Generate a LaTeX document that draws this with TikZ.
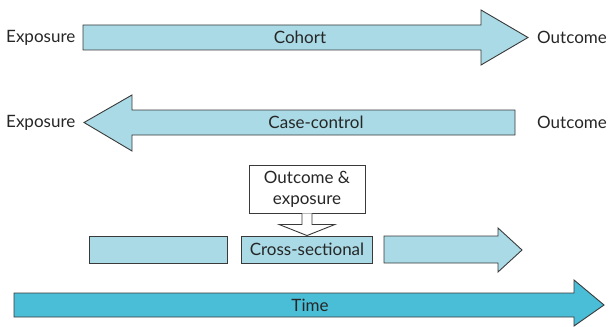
\documentclass[tikz,border=0pt]{standalone}
\usepackage{fontspec}
\setmainfont{Lato}
\usetikzlibrary{calc}
\definecolor{paleblue}{HTML}{A9DAE6}
\definecolor{timeblue}{HTML}{4ABDD7}
\definecolor{edgegrey}{HTML}{3A3A3A}
\tikzset{
  band/.style={draw=edgegrey, line width=0.9pt, fill=paleblue, line join=miter},
  lbl/.style={font=\fontsize{17}{21}\selectfont, text=black!85, inner sep=0pt},
}

\begin{document}
\begin{tikzpicture}[x=1pt,y=-1pt]
      \useasboundingbox (0,0) rectangle (609,326);
      % cohort
      \draw[band] (83,25) -- (481,25) -- (481,10) -- (528,37.5) -- (481,65) -- (481,50) -- (83,50) -- cycle;
      \node[lbl] (cohort) at (300,37.5) {Cohort};
      \node[lbl, anchor=west] (expA) at (6,37.5) {Exposure};
      \node[lbl, anchor=east] (outA) at (607,37.5) {Outcome};
      % case-control
      \draw[band] (515,110) -- (132,110) -- (132,95) -- (84,122.5) -- (132,151) -- (132,135) -- (515,135) -- cycle;
      \node[lbl] (casecontrol) at (316,122.5) {Case-control};
      \node[lbl, anchor=west] (expB) at (6,122.5) {Exposure};
      \node[lbl, anchor=east] (outB) at (607,122.5) {Outcome};
      % cross-sectional
      \draw[band] (89,236) rectangle (227,263);
      \node[lbl, draw=edgegrey, line width=0.9pt, fill=paleblue, minimum width=131pt, minimum height=27pt] (cross) at (307,249.5) {Cross-sectional};
      \draw[band] (384,236) -- (498,236) -- (498,228) -- (522,250) -- (498,272) -- (498,263) -- (384,263) -- cycle;
      \node[lbl, draw=edgegrey, line width=0.9pt, fill=white, align=center, minimum width=116pt, minimum height=48pt] (both) at (307,189) {Outcome \&\\exposure};
      \draw[edgegrey, line width=0.9pt, fill=white]
        ($(both.south)+(-5,0)$) -- ($(both.south)+(-5,11)$) -- ($(both.south)+(-28,11)$)
        -- (cross.north) -- ($(both.south)+(28,11)$) -- ($(both.south)+(5,11)$) -- ($(both.south)+(5,0)$);
      % time
      \draw[band, fill=timeblue] (14,293) -- (574,293) -- (574,280) -- (604,305) -- (574,326) -- (574,317) -- (14,317) -- cycle;
      \node[lbl] (time) at (310,305) {Time};
\end{tikzpicture}
\end{document}
